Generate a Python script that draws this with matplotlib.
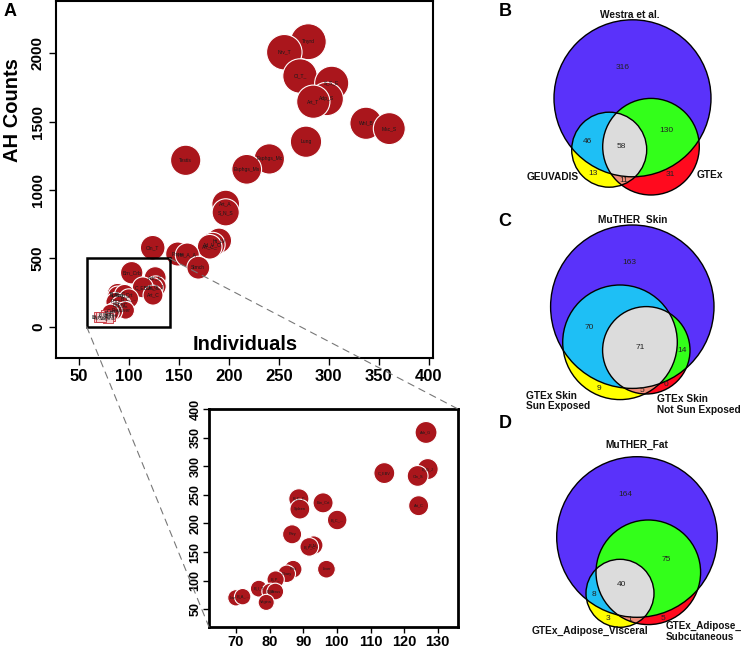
import numpy as np
import matplotlib
matplotlib.use("Agg")
from matplotlib import pyplot as plt
from matplotlib.patches import Circle, Polygon, Rectangle, ConnectionPatch

plt.rcParams['font.family'] = ['Liberation Sans', 'DejaVu Sans']

# ---- panel A data: tissue, individuals, AH counts ----
tissues = ["Thyrd", "Nrv_T", "Cl_T_", "S_S_E", "Adp_S", "Art_T", "Whl_B", "Msc_S",
           "Lung", "Testis", "Esphgs_Mc", "Esphgs_Ms", "Art_A", "S_N_S", "Ht_LV",
           "Ad_V_O", "Art_C_", "Pncrs", "Hrt_A_A", "Stmch", "Cln_T", "Brn_Crb",
           "Adr_G", "E_G_J", "Cln_S", "C_EBV", "Art_C", "B_C_C", "Spleen", "Brn_Crt",
           "B_C_...", "Pttry", "B_N_", "B_F_C", "Prst", "Liver", "Ovary", "B_P_",
           "B_I_T", "B_H", "Uterus", "Vagina", "Lwr_...", "B_A_..."]
individuals = [279.6, 255.6, 271.3, 303.0, 298.0, 284.6, 337.3, 360.6,
               277.3, 157.0, 240.6, 218.0, 197.0, 197.0, 190.3,
               184.0, 181.0, 149.0, 158.6, 169.6, 124.0, 103.0,
               126.5, 127.0, 124.0, 114.1, 124.3, 88.7, 89.0, 95.9,
               100.1, 86.7, 93.1, 91.8, 87.0, 96.9, 85.1, 81.8,
               76.8, 80.2, 81.7, 79.0, 70.0, 72.0]
ah_counts = [2086, 2009, 1835, 1782, 1667, 1647, 1489, 1450,
             1354, 1218, 1228, 1152, 898, 837, 630,
             600, 585, 532, 525, 432, 578, 395,
             359, 295, 283, 288, 231, 243, 225, 236,
             206, 181, 162, 159, 120, 120, 112, 102,
             86, 81, 81, 62, 70, 72]

# ---- Venn counts (only A, only B, only C, AB, AC, BC, ABC) ----
venn_b_names = ["Westra et al.", "GEUVADIS", "GTEx"]
venn_b_counts = [316, 13, 31, 46, 130, 11, 58]
venn_c_names = ["MuTHER  Skin", "GTEx Skin\nSun Exposed", "GTEx Skin\nNot Sun Exposed"]
venn_c_counts = [163, 9, 0, 70, 14, 5, 71]
venn_d_names = ["MuTHER_Fat", "GTEx_Adipose_Visceral", "GTEx_Adipose_\nSubcutaneous"]
venn_d_counts = [164, 3, 5, 8, 75, 1, 40]

zoom_box = (58, 141, 0, 500)
inset_x = (62, 136)
inset_y = (19, 400)

red = "#AA161C"
x = np.array(individuals)
y = np.array(ah_counts)
r_px = 6 + 12 * np.sqrt(y / 2100.0)
sizes = (2 * r_px * 0.72) ** 2

fig = plt.figure(figsize=(7.42, 6.48), dpi=100)
W, H = 742.0, 648.0


def px_axes(l, t, r, b):
    return fig.add_axes([l / W, 1 - b / H, (r - l) / W, (b - t) / H])


def bold_ticks(a, xsize, ysize):
    for lbl in a.get_xticklabels():
        lbl.set_fontweight('bold')
        lbl.set_fontsize(xsize)
    for lbl in a.get_yticklabels():
        lbl.set_fontweight('bold')
        lbl.set_fontsize(ysize)
        lbl.set_rotation(90)
        lbl.set_va('center')
        lbl.set_ha('right')


# ---- main bubble plot ----
ax = px_axes(56, 1, 433, 358)
small = y < 90
ax.scatter(x[~small], y[~small], s=sizes[~small], c=red, edgecolors='white',
           linewidths=0.8, zorder=2)
ax.scatter(x[small], y[small], s=45, marker='s', facecolor='#F5D0D2',
           edgecolors='#C8323C', linewidths=0.6, zorder=2)
for xi, yi, t in zip(x, y, tissues):
    ax.text(xi, yi, t, fontsize=3.6, ha='center', va='center', color='#1a1a1a',
            zorder=3)
ax.set_xlim(27.3, 404.3)
ax.set_ylim(-229, 2384)
ax.set_xticks(range(50, 401, 50))
ax.set_yticks(range(0, 2001, 500))
ax.tick_params(direction='out', length=5, width=1, pad=3)
bold_ticks(ax, 12, 11)
for s in ax.spines.values():
    s.set_linewidth(1.5)
x0, x1, y0, y1 = zoom_box
ax.add_patch(Rectangle((x0, y0), x1 - x0, y1 - y0, fill=False, lw=1.8,
                       edgecolor='black', zorder=4))
fig.text(245 / W, 1 - 345 / H, "Individuals", ha='center', va='center',
         fontsize=14.5, fontweight='bold')
fig.text(13 / W, 1 - 110 / H, "AH Counts", ha='center', va='center',
         fontsize=14.5, fontweight='bold', rotation=90)
fig.text(10 / W, 1 - 11 / H, "A", ha='center', va='center', fontsize=13,
         fontweight='bold')

# ---- inset ----
axi = px_axes(209, 409, 458, 627)
sel = (x <= 130) & (y <= 380)
axi.scatter(x[sel], y[sel], s=sizes[sel], c=red, edgecolors='white',
            linewidths=0.8, zorder=2)
for xi, yi, t in zip(x[sel], y[sel], np.array(tissues)[sel]):
    axi.text(xi, yi, t, fontsize=2.8, ha='center', va='center', color='#1a1a1a',
             zorder=3)
axi.set_xlim(*inset_x)
axi.set_ylim(*inset_y)
axi.set_xticks(range(70, 131, 10))
axi.set_yticks(range(50, 401, 50))
axi.tick_params(direction='out', length=4, width=1, pad=1.5)
bold_ticks(axi, 10.5, 9)
for s in axi.spines.values():
    s.set_linewidth(2)

for xyA, xyB in [((x0, y0), (0, 0)), ((x1, y1), (1, 1))]:
    con = ConnectionPatch(xyA=xyA, coordsA=ax.transData, xyB=xyB,
                          coordsB=axi.transAxes, linestyle=(0, (6, 5)),
                          color='#777777', lw=0.8)
    fig.add_artist(con)

# ---- Venn diagrams ----
axv = px_axes(480, 0, 742, 648)
axv.set_xlim(480, 742)
axv.set_ylim(648, 0)
axv.axis('off')

region_cols = ['#5A32FA', '#FFFF00', '#FF0A1E', '#1EBFF5', '#33FF1A',
               '#F08C78', '#DCDCDC']


def inter_poly(circles):
    pts = []
    t = np.linspace(0, 2 * np.pi, 1440, endpoint=False)
    for cx, cy, r in circles:
        p = np.column_stack([cx + r * np.cos(t), cy + r * np.sin(t)])
        ok = np.ones(len(p), bool)
        for ox, oy, orr in circles:
            ok &= np.hypot(p[:, 0] - ox, p[:, 1] - oy) <= orr + 1e-6
        pts.append(p[ok])
    pts = np.vstack(pts)
    c = pts.mean(axis=0)
    order = np.argsort(np.arctan2(pts[:, 1] - c[1], pts[:, 0] - c[0]))
    return pts[order]


def venn(circles, counts, spots):
    a, b, c = circles
    for circ, col in zip(circles, region_cols[:3]):
        axv.add_patch(Circle(circ[:2], circ[2], facecolor=col, lw=0))
    for pair, col in zip([(a, b), (a, c), (b, c)], region_cols[3:6]):
        axv.add_patch(Polygon(inter_poly(pair), closed=True, facecolor=col, lw=0))
    axv.add_patch(Polygon(inter_poly((a, b, c)), closed=True,
                          facecolor=region_cols[6], lw=0))
    for circ in circles:
        axv.add_patch(Circle(circ[:2], circ[2], fill=False, edgecolor='black', lw=1))
    for n, (sx, sy) in zip(counts, spots):
        axv.text(sx, sy, str(n), fontsize=6, ha='center', va='center', color='#222222')


bold = dict(fontsize=7.3, fontweight='bold', color='#111111')

# B
venn([(632.5, 98.3, 78.5), (609.2, 149.7, 37.5), (651.0, 146.7, 48.3)],
     venn_b_counts,
     [(622.7, 67.7), (593.3, 173.3), (670, 175), (587.3, 141.3), (666.7, 130),
      (624, 180), (621.7, 146)])
axv.text(630, 15, venn_b_names[0], ha='center', va='center', **bold)
axv.text(553, 177.3, venn_b_names[1], ha='center', va='center', **bold)
axv.text(710, 175, venn_b_names[2], ha='center', va='center', **bold)
axv.text(505, 11, "B", ha='center', va='center', fontsize=13, fontweight='bold')

# C
venn([(632.3, 306.7, 81.7), (620.0, 342.3, 57.3), (646.3, 350.3, 43.7)],
     venn_c_counts,
     [(629, 262.7), (599.3, 388.3), (665.7, 384), (589.3, 327.7), (682, 351),
      (642.3, 390), (640.3, 347.3)])
axv.text(632.3, 220, venn_c_names[0], ha='center', va='center', **bold)
axv.text(525.7, 391, venn_c_names[1], ha='left', va='top', linespacing=1.05, **bold)
axv.text(657.3, 394.5, venn_c_names[2], ha='left', va='top', linespacing=1.05, **bold)
axv.text(505, 222, "C", ha='center', va='center', fontsize=13, fontweight='bold')

# D
venn([(637.0, 537.0, 80.3), (620.0, 593.3, 34.0), (648.3, 572.3, 52.3)],
     venn_d_counts,
     [(625, 494.7), (608.3, 619), (662.7, 619), (594.3, 595), (666.7, 559.3),
      (630, 619.3), (621.7, 585)])
axv.text(636.7, 445, venn_d_names[0], ha='center', va='center', **bold)
axv.text(590, 630.7, venn_d_names[1], ha='center', va='center', **bold)
axv.text(665.7, 621, venn_d_names[2], ha='left', va='top', linespacing=1.05,
         fontsize=7.1, fontweight='bold', color='#111111')
axv.text(505, 423, "D", ha='center', va='center', fontsize=13, fontweight='bold')

plt.savefig("out.png", dpi=100)
